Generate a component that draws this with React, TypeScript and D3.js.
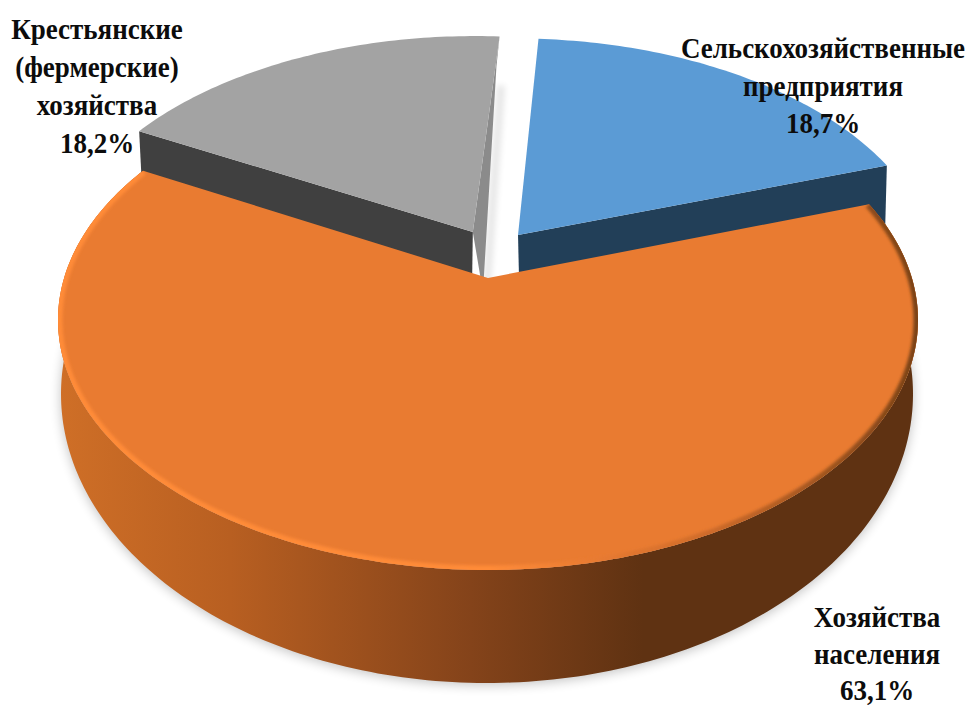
import React from "react";
import * as d3 from "d3";

// Shares of agricultural output by producer type, percent.
const categories = ["Сельскохозяйственные предприятия", "Хозяйства населения", "Крестьянские (фермерские) хозяйства"];
const shares = [18.7, 63.1, 18.2];
const shareLabels = ["18,7%", "63,1%", "18,2%"];
const labelLines = [
  ["Сельскохозяйственные", "предприятия"],
  ["Хозяйства", "населения"],
  ["Крестьянские", "(фермерские)", "хозяйства"],
];
const labelCenters = [823, 877, 97];
const labelFirstBaselines = [58, 627, 39];
const labelLeading = [37.5, 36.5, 38];

const firstSliceDeg = 4;
// Pull-out of each slice on the pie's own plane.
const explodeU = [0.073, 0, -0.037];
const explodeV = [0.182, 0, 0.196];

const topFaces = ["#5b9bd5", "#e97b31", "#a3a3a3"];
const cutFaces = ["#223f58", "#5f3212", "#404040"];
const innerFaces = ["none", "none", "#8b8b8b"];

const WIDTH = 970;
const HEIGHT = 707;

// Perspective tilt: a boost of the unit disc that keeps its rim on the ellipse
// but slides the centre towards the back.
const TILT = 0.168;
const boost = (u: number, v: number) => {
  const d = 1 + TILT * v;
  return [(u * Math.sqrt(1 - TILT * TILT)) / d, (v + TILT) / d];
};

const makePlane = (cx: number, cy: number, rx: number, ry: number) => {
  const x = d3.scaleLinear().domain([-1, 1]).range([cx - rx, cx + rx]);
  const y = d3.scaleLinear().domain([-1, 1]).range([cy + ry, cy - ry]);
  return (u: number, v: number): [number, number] => {
    const [a, b] = boost(u, v);
    return [x(a), y(b)];
  };
};
const topPlane = makePlane(488, 320, 430, 250);
const basePlane = makePlane(487, 394, 426, 289);

const pie = d3
  .pie<number>()
  .sort(null)
  .startAngle((firstSliceDeg * Math.PI) / 180)
  .endAngle((firstSliceDeg * Math.PI) / 180 + 2 * Math.PI);
const slices = pie(shares);

const line = d3.line();
type Plane = typeof topPlane;

const rimPoint = (plane: Plane, i: number, angle: number, radius = 1) =>
  plane(explodeU[i] + radius * Math.sin(angle), explodeV[i] + radius * Math.cos(angle));
const apex = (plane: Plane, i: number) => plane(explodeU[i], explodeV[i]);
const rim = (plane: Plane, i: number, a0: number, a1: number, radius = 1) => {
  const steps = Math.max(12, Math.ceil(Math.abs(a1 - a0) * 60));
  return d3.range(steps + 1).map((s) => rimPoint(plane, i, a0 + ((a1 - a0) * s) / steps, radius));
};

const topPath = (i: number) => {
  const s = slices[i];
  return line([apex(topPlane, i), ...rim(topPlane, i, s.startAngle, s.endAngle)])! + "Z";
};
// Cut face of a slice; each base corner can be nudged where the lens widens the wall.
const cutWall = (i: number, angle: number, rimDx = 0, rimDy = 0, apexDx = 0, apexDy = 0) => {
  const [bx, by] = rimPoint(basePlane, i, angle);
  const [ax, ay] = apex(basePlane, i);
  return (
    line([apex(topPlane, i), rimPoint(topPlane, i, angle), [bx + rimDx, by + rimDy], [ax + apexDx, ay + apexDy]])! + "Z"
  );
};
const outerWall = (i: number) => {
  const s = slices[i];
  return line([...rim(topPlane, i, s.startAngle, s.endAngle), ...rim(basePlane, i, s.endAngle, s.startAngle)])! + "Z";
};

const BLUE = 0;
const ORANGE = 1;
const GREY = 2;

// Ground shadow follows the front half of the base, so nothing leaks into the gap behind.
const shadowPath =
  line(rim(basePlane, ORANGE, Math.PI * 0.45, Math.PI * 1.55).map(([x, y]) => [x, y + 2] as [number, number]))! + "Z";

// Soft shade cast into the gap between the two pulled-out slices.
const gapShade = (() => {
  const a = slices[GREY].endAngle;
  const inner = apex(basePlane, GREY);
  const outer = rimPoint(topPlane, GREY, a, 0.72);
  return line([
    [outer[0] + 4, outer[1]],
    [outer[0] + 12, outer[1]],
    [inner[0] + 18, inner[1]],
    [inner[0] + 11, inner[1]],
  ])! + "Z";
})();

const bevelPath = line(rim(topPlane, ORANGE, slices[ORANGE].startAngle, slices[ORANGE].endAngle))!;

export default function App() {
  return (
    <svg
      width={WIDTH}
      height={HEIGHT}
      viewBox={`0 0 ${WIDTH} ${HEIGHT}`}
      style={{ position: "absolute", left: 0, top: 0, display: "block", background: "#fff" }}
      role="img"
      aria-label={categories.join(", ")}
    >
      <defs>
        <linearGradient id="sideShade" gradientUnits="userSpaceOnUse" x1={58} x2={918} y1={0} y2={0}>
          <stop offset="0" stopColor="#cf6f27" />
          <stop offset="0.2" stopColor="#b85f21" />
          <stop offset="0.48" stopColor="#84431a" />
          <stop offset="0.68" stopColor="#5f3212" />
          <stop offset="1" stopColor="#5f3212" />
        </linearGradient>
        <linearGradient id="bevelShade" gradientUnits="userSpaceOnUse" x1={58} x2={918} y1={0} y2={0}>
          <stop offset="0" stopColor="#ff8b39" />
          <stop offset="0.5" stopColor="#ff8b39" />
          <stop offset="0.62" stopColor="#e97b31" />
          <stop offset="0.75" stopColor="#d06c2a" />
          <stop offset="1" stopColor="#7a4216" />
        </linearGradient>
        <filter id="softShadow" x="-10%" y="-10%" width="120%" height="120%">
          <feGaussianBlur stdDeviation="6" />
        </filter>
        <filter id="softGap" x="-200%" y="-20%" width="500%" height="140%">
          <feGaussianBlur stdDeviation="3" />
        </filter>
        <filter id="softBevel" x="-5%" y="-5%" width="110%" height="110%">
          <feGaussianBlur stdDeviation="1.6" />
        </filter>
        <clipPath id="largeTop">
          <path d={topPath(ORANGE)} />
        </clipPath>
      </defs>

      <path d={shadowPath} fill="#000" opacity={0.24} filter="url(#softShadow)" />

      {/* Pulled-out slices, painted behind the large one */}
      <path d={cutWall(BLUE, slices[BLUE].endAngle, 3, 14, 3, 14)} fill={cutFaces[BLUE]} />
      <path d={gapShade} fill="#000" opacity={0.1} filter="url(#softGap)" />
      <path d={cutWall(GREY, slices[GREY].startAngle)} fill={cutFaces[GREY]} />
      <path d={cutWall(GREY, slices[GREY].endAngle, -2, 0, 11, 0)} fill={innerFaces[GREY]} />
      <path d={topPath(BLUE)} fill={topFaces[BLUE]} />
      <path d={topPath(GREY)} fill={topFaces[GREY]} />

      {/* Large slice: side wall, top face and the rim highlight */}
      <path d={outerWall(ORANGE)} fill="url(#sideShade)" />
      <path d={topPath(ORANGE)} fill={topFaces[ORANGE]} />
      <g clipPath="url(#largeTop)">
        <path d={bevelPath} fill="none" stroke="url(#bevelShade)" strokeWidth={9} filter="url(#softBevel)" />
      </g>

      <g fontFamily="'Liberation Serif', serif" fontWeight={700} fontSize={27} fill="#0c0c0c" textAnchor="middle">
        {categories.map((_, i) => (
          <g key={i}>
            {[...labelLines[i], shareLabels[i]].map((t, j) => (
              <text
                key={j}
                transform={`translate(${labelCenters[i]},${labelFirstBaselines[i] + j * labelLeading[i]}) scale(1,1.08)`}
              >
                {t}
              </text>
            ))}
          </g>
        ))}
      </g>
    </svg>
  );
}
